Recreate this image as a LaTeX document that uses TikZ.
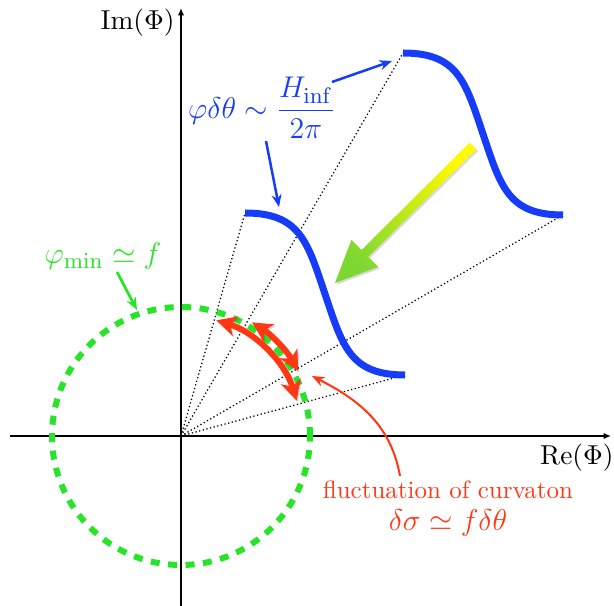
\documentclass[tikz,border=0pt]{standalone}
\usepackage{amsmath}
\usepackage{amssymb}
\usepackage{tikz}
\usetikzlibrary{arrows.meta, positioning, calc}
\usepackage{xcolor}

\definecolor{curveblue}{RGB}{22,60,250}
\definecolor{minigreen}{RGB}{40,228,40}
\definecolor{flucred}{RGB}{255,55,20}
\definecolor{pushyellow}{RGB}{255,250,0}
\definecolor{pushgreen}{RGB}{125,215,50}

\begin{document}
\begin{tikzpicture}[
  x=0.4pt, y=0.4pt,
  font=\normalsize,
  >=Latex,
  % Axes of the complex plane
  axis/.style={line width=0.6pt, -{Latex[length=3pt,width=2.6pt]}},
  axislabel/.style={anchor=north east, inner sep=0pt, font=\fontsize{11}{13}\selectfont},
  % Rays from the origin
  ray/.style={densely dotted, line width=0.5pt},
  % Minimum of the potential
  minring/.style={draw=minigreen, line width=2.4pt, dash pattern=on 3.6pt off 3.4pt},
  % Potential profiles
  profile/.style={
    preaction={draw=black, opacity=0.2, transform canvas={xshift=0.5pt, yshift=-0.7pt}},
    draw=curveblue, line width=2.8pt
  },
  % Big push arrow
  pushshade/.style={
    preaction={fill=black, opacity=0.15, transform canvas={xshift=0.6pt, yshift=-0.7pt}},
    top color=pushyellow, bottom color=pushgreen, shading angle=-45
  },
  % Fluctuation arcs
  fluctarc/.style={
    preaction={draw=black, opacity=0.15, transform canvas={xshift=0.5pt, yshift=-0.7pt}},
    draw=flucred, line width=2.4pt,
    {Stealth[length=8pt,width=8pt,inset=2.2pt]}-{Stealth[length=8pt,width=8pt,inset=2.2pt]}
  },
  % Pointer arrows
  bluepoint/.style={draw=curveblue, line width=1pt, -{Stealth[length=5pt,width=4pt]}},
  greenpoint/.style={draw=minigreen, line width=1.1pt, -{Stealth[length=5pt,width=4pt]}},
  redpoint/.style={draw=flucred, line width=0.8pt, -{Stealth[length=5pt,width=4pt]}},
  % Labels
  mathlabel/.style={font=\fontsize{12.5}{15}\selectfont, inner sep=1pt},
  redtext/.style={text=flucred, inner sep=1pt}
]

\useasboundingbox (-181,-170) rectangle (433,436);

% === AXES ===
\coordinate (origin) at (0,0);
\coordinate (xstart) at (-171,0);
\coordinate (xend) at (430,0);
\coordinate (ystart) at (0,-170);
\coordinate (yend) at (0,428);
\draw[axis] (xstart) -- (xend);
\draw[axis] (ystart) -- (yend);
\node[axislabel] (relabel) at (433,-7) {$\mathrm{Re}(\Phi)$};
\node[axislabel] (imlabel) at (-6,428) {$\mathrm{Im}(\Phi)$};

% === RAYS TO THE PROFILE ENDS ===
\coordinate (nearA) at (64,223);
\coordinate (nearB) at (224,61);
\coordinate (farA) at (222,383);
\coordinate (farB) at (382,221);
\draw[ray] (origin) -- (nearA);
\draw[ray] (origin) -- (nearB);
\draw[ray] (origin) -- (farA);
\draw[ray] (origin) -- (farB);

% === MINIMUM CIRCLE ===
\draw[minring] (origin) circle[radius=129];

% === PROFILES ===
\draw[profile] (nearA) .. controls (119,223) and (126.4,194.3) .. (144,142)
  .. controls (161.6,89.7) and (169,61) .. (nearB);
\draw[profile] (farA) .. controls (277,383) and (284.4,354.3) .. (302,302)
  .. controls (319.6,249.7) and (327,221) .. (farB);

% === PUSH ARROW ===
\shade[pushshade] (154,153) -- (170.4,196.1) -- (180.5,186) -- (288.7,293.4)
  -- (295.4,286.6) -- (187.2,179.2) -- (197.2,169.1) -- cycle;

% === FLUCTUATIONS ===
\draw[fluctarc] (73:121) arc[start angle=73, end angle=17, radius=121];
\draw[fluctarc] (58:134) arc[start angle=58, end angle=29, radius=134];

% === LABELS ===
\node[mathlabel, text=curveblue] (fluxlabel) at (81,328)
  {$\varphi\delta\theta\sim\dfrac{H_{\rm inf}}{2\pi}$};
\node[mathlabel, text=minigreen] (minlabel) at (-78,180) {$\varphi_{\rm min}\simeq f$};
\node[redtext] (flucttext) at (267,-54) {fluctuation of curvaton};
\node[mathlabel, text=flucred, below=2pt of flucttext] (flucteq) {$\delta\sigma\simeq f\delta\theta$};

% === POINTERS ===
\coordinate (nearptr) at (85,295);
\coordinate (nearhit) at (98,229);
\coordinate (farptr) at (151,354);
\coordinate (farhit) at (211,375);
\coordinate (minptr) at (-64,164);
\coordinate (minhit) at (-44,126);
\coordinate (flucptr) at (219,-40);
\coordinate (flucthit) at (131,60);
\draw[bluepoint] (nearptr) -- (nearhit);
\draw[bluepoint] (farptr) -- (farhit);
\draw[greenpoint] (minptr) -- (minhit);
\draw[redpoint] (flucptr) to[out=100, in=-27] (flucthit);

\end{tikzpicture}
\end{document}
